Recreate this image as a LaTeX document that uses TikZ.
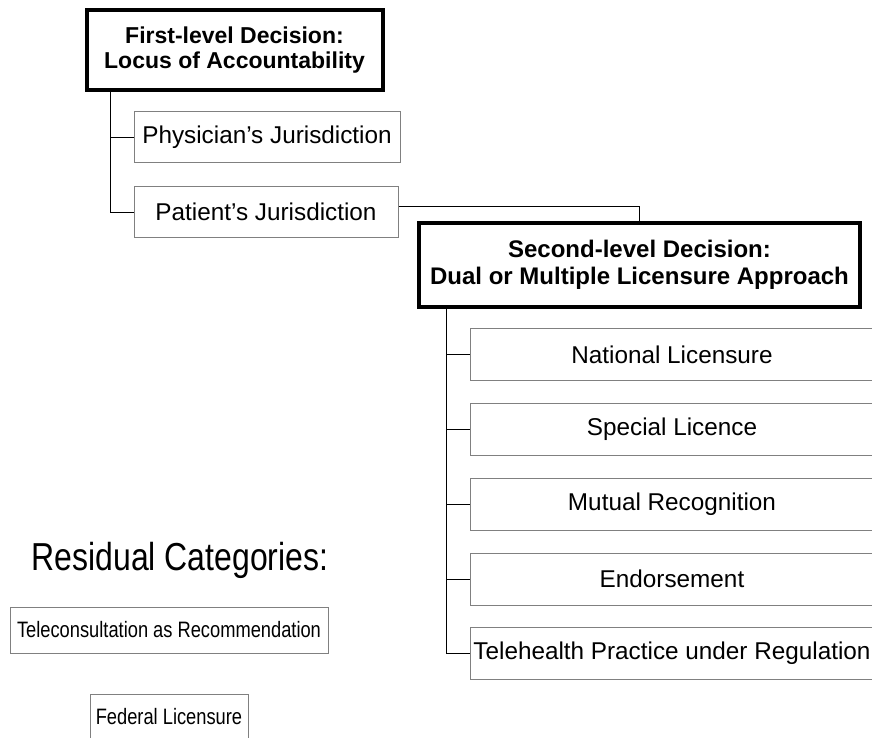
\documentclass[tikz,border=0pt]{standalone}
\usepackage{fontspec}
\setmainfont{Liberation Sans}
\newfontfamily\narrowfont[FakeStretch=0.82]{Liberation Sans}
\usetikzlibrary{positioning,calc}

\begin{document}
\begin{tikzpicture}[x=1pt, y=-1pt,
  decision node/.style={rectangle,draw=black,line width=4pt,fill=white,align=center,inner sep=0pt,font=\fontsize{23}{25}\selectfont\bfseries},
  choice node/.style={rectangle,draw=gray,line width=1pt,fill=white,inner sep=0pt,font=\fontsize{24.3}{26}\selectfont},
  residual node/.style={rectangle,draw=gray,line width=1pt,fill=white,inner sep=0pt,font=\narrowfont\fontsize{22.3}{24}\selectfont},
  link/.style={draw=black,line width=1pt}]
\useasboundingbox (0,0) rectangle (872,738);
\clip (0,0) rectangle (872,738);
\begin{scope}
\node[decision node,minimum width=296pt,minimum height=80pt] (first) at (234.5,50) {First-level Decision:\\Locus of Accountability};
\node[choice node,minimum width=266pt,minimum height=51pt] (phys) at (267,137.5) {Physician's Jurisdiction};
\node[choice node,minimum width=264pt,minimum height=50pt] (pat) at (266,212) {Patient's Jurisdiction};
\node[decision node,minimum width=441pt,minimum height=84pt,font=\fontsize{24}{27}\selectfont\bfseries] (second) at (639.5,265) {Second-level Decision:\\Dual or Multiple Licensure Approach};
\node[choice node,minimum width=404pt,minimum height=52pt] (nat) at (672,354.5) {National Licensure};
\node[choice node,minimum width=404pt,minimum height=52pt] (spec) at (672,429) {Special Licence};
\node[choice node,minimum width=404pt,minimum height=52pt] (mutual) at (672,504) {Mutual Recognition};
\node[choice node,minimum width=404pt,minimum height=52pt] (endorse) at (672,579) {Endorsement};
\node[choice node,minimum width=404pt,minimum height=52pt] (tele) at (672,653) {Telehealth Practice under Regulation};
\node[font=\narrowfont\fontsize{39}{41}\selectfont] (resid) at (180,560) {Residual Categories:};
\node[residual node,minimum width=318pt,minimum height=46pt] (consult) at (169,630) {Teleconsultation as Recommendation};
\node[residual node,minimum width=158pt,minimum height=46pt] (federal) at (169,717) {Federal Licensure};
\end{scope}
\begin{scope}[link]
\coordinate (trunk1) at ([xshift=26pt]first.south west);
\coordinate (trunk2) at ([xshift=29pt]second.south west);
\draw (trunk1) |- (pat.west);
\draw (trunk1 |- phys.west) -- (phys.west);
\draw ([yshift=6pt]pat.east) -| (second.north);
\draw (trunk2) |- (tele.west);
\draw (trunk2 |- nat.west) -- (nat.west);
\draw (trunk2 |- spec.west) -- (spec.west);
\draw (trunk2 |- mutual.west) -- (mutual.west);
\draw (trunk2 |- endorse.west) -- (endorse.west);
\end{scope}
\end{tikzpicture}
\end{document}
